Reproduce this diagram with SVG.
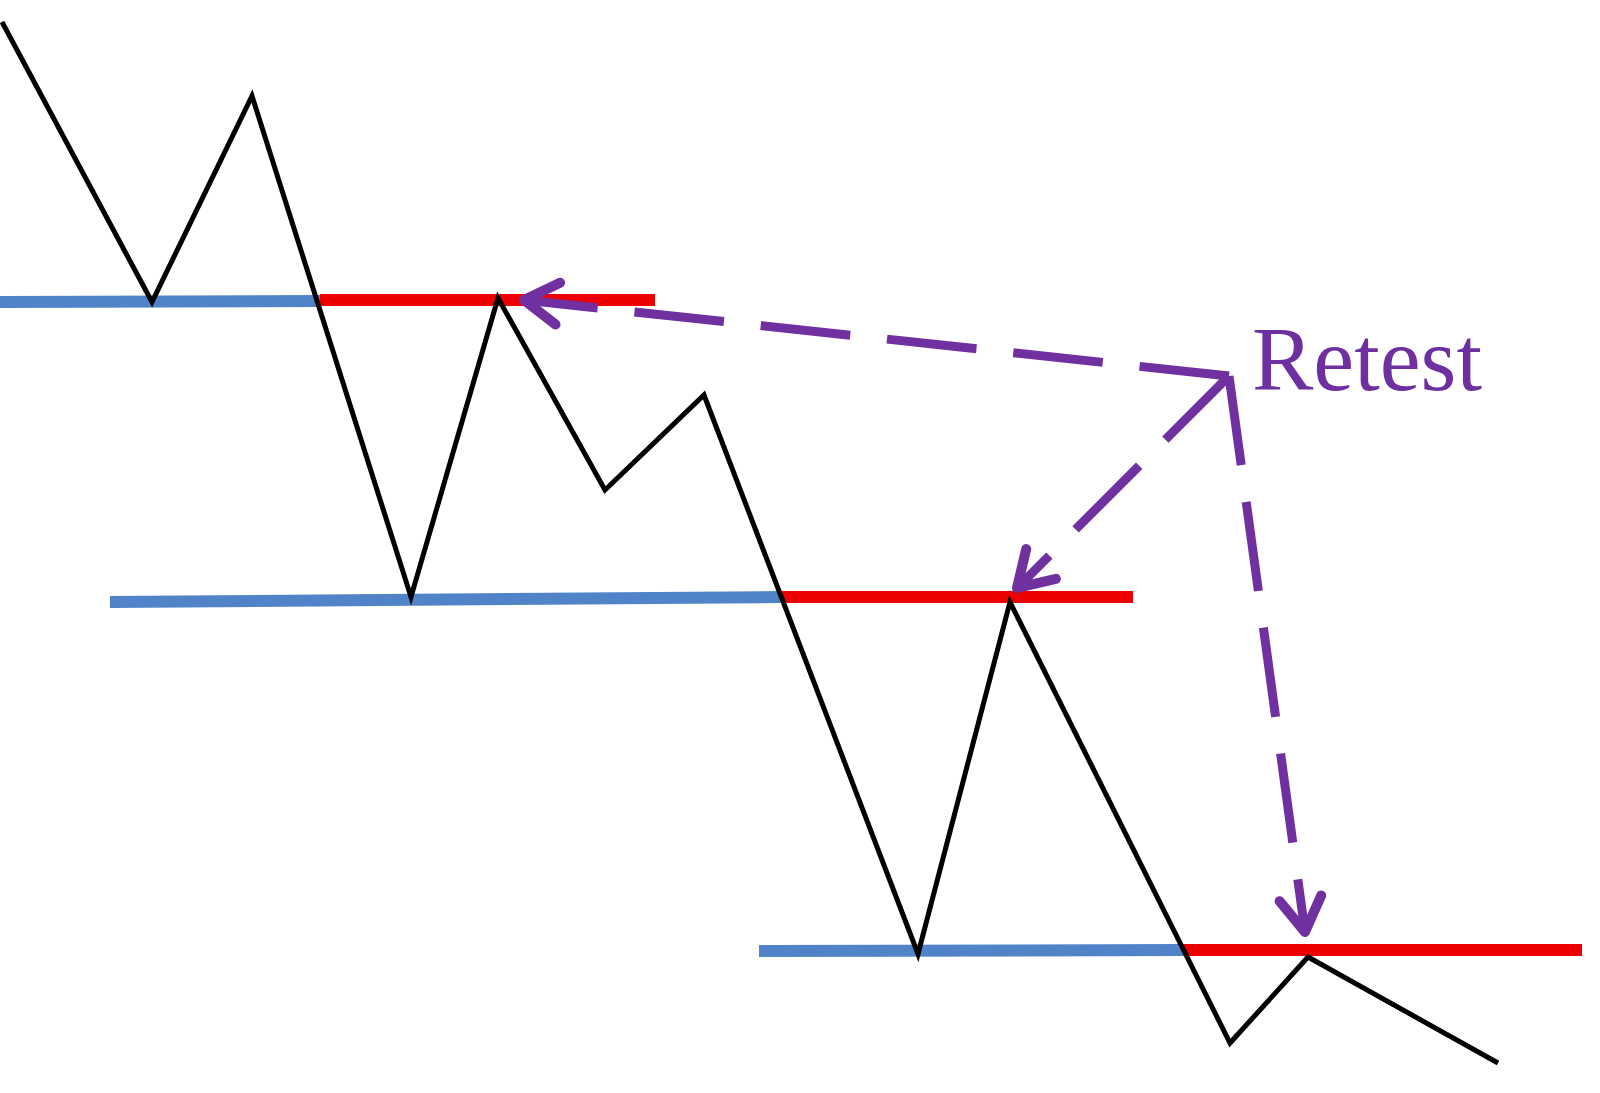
<svg xmlns="http://www.w3.org/2000/svg" width="1600" height="1093" viewBox="0 0 1600 1093">
<style>
.blue{stroke:#5083C8;stroke-width:12;fill:none}
.red{stroke:#EE0000;stroke-width:12;fill:none}
.price{stroke:#000;stroke-width:5;fill:none;stroke-linejoin:miter}
.retest{stroke:#7030A0;stroke-width:9;fill:none;stroke-dasharray:90 37}
.label{font-family:"Liberation Serif","Times New Roman",serif;font-size:92px;fill:#6E2FA0}
</style>
<defs>
<marker id="chev" markerUnits="userSpaceOnUse" markerWidth="80" markerHeight="80" refX="0" refY="0" viewBox="-50 -40 80 80" orient="auto" overflow="visible">
<path d="M-34,-21 L0,0 L-34,21" fill="none" stroke="#7030A0" stroke-width="10" stroke-dasharray="none" stroke-linecap="round" stroke-linejoin="round"/>
</marker>
</defs>
<rect width="1600" height="1093" fill="#fff"/>
<g id="levels">
<line id="support1" class="blue" x1="0" y1="302" x2="320" y2="301"/>
<line id="resistance1" class="red" x1="320" y1="300" x2="655" y2="300"/>
<line id="support2" class="blue" x1="110" y1="602" x2="781" y2="597"/>
<line id="resistance2" class="red" x1="781" y1="597" x2="1133" y2="597"/>
<line id="support3" class="blue" x1="759" y1="951" x2="1184" y2="950"/>
<line id="resistance3" class="red" x1="1184" y1="950" x2="1582" y2="950"/>
</g>
<g id="price">
<polyline class="price" points="2,22 152,302 252,96 411,597 498,298 605,490 704,395 918,954 1010,602 1230,1043 1308,957 1498,1063"/>
</g>
<g id="connectors">
<line class="retest" x1="1229" y1="376" x2="524" y2="300" marker-end="url(#chev)"/>
<line class="retest" x1="1229" y1="376" x2="1017" y2="588" marker-end="url(#chev)"/>
<line class="retest" x1="1229" y1="376" x2="1305" y2="932" marker-end="url(#chev)"/>
</g>
<g id="retest-label">
<text class="label" x="1252" y="390">Retest</text>
</g>
</svg>
